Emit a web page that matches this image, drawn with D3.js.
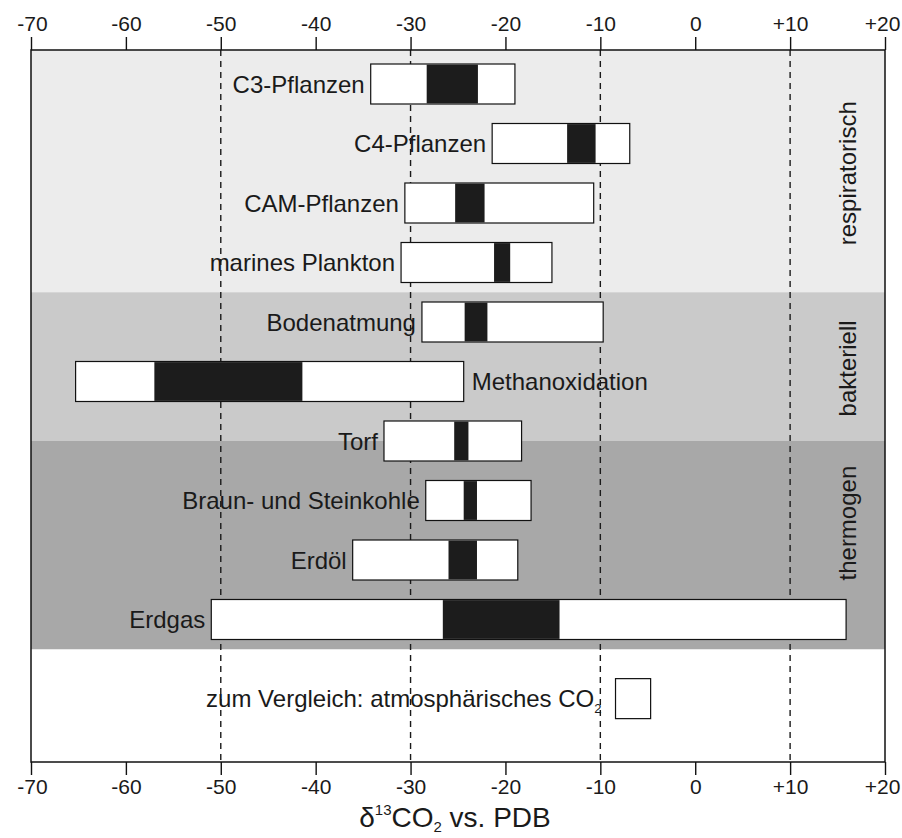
<!DOCTYPE html>
<html>
<head>
<meta charset="utf-8">
<script src="https://cdn.jsdelivr.net/npm/d3@7/dist/d3.min.js"></script>
<style>
  html, body { margin: 0; padding: 0; background: #fff; }
  svg { display: block; font-family: "Liberation Sans", Arial, Helvetica, sans-serif; }
</style>
</head>
<body>
<svg id="chart" width="902" height="838"></svg>
<script>
// ---- data ----
const categories = ["C3-Pflanzen", "C4-Pflanzen", "CAM-Pflanzen", "marines Plankton", "Bodenatmung",
  "Methanoxidation", "Torf", "Braun- und Steinkohle", "Erdöl", "Erdgas"];
const rangeMin = [-34.2, -21.4, -30.6, -31.0, -28.8, -65.3, -32.8, -28.4, -36.1, -51.0];
const rangeMax = [-19.0, -6.9, -10.7, -15.1, -9.7, -24.4, -18.3, -17.3, -18.7, 15.9];
const coreMin = [-28.3, -13.5, -25.3, -21.2, -24.3, -57.0, -25.4, -24.4, -26.0, -26.6];
const coreMax = [-22.9, -10.5, -22.2, -19.5, -21.9, -41.4, -23.9, -23.0, -23.0, -14.3];
const labelRight = ["Methanoxidation"];

const bandNames = ["respiratorisch", "bakteriell", "thermogen"];
const bandFrom = [-0.57, 3.5, 6.0];   // in row units
const bandTo = [3.5, 6.0, 9.5];
const bandLabelRow = [1.5, 4.78, 7.38];
const bandColors = ["#ececec", "#cacaca", "#a8a8a8"];

const refLabel = "zum Vergleich: atmosphärisches CO";
const refMin = -8.4, refMax = -4.7, refRow = 10.33;

const tickValues = [-70, -60, -50, -40, -30, -20, -10, 0, 10, 20];
const tickLabels = ["-70", "-60", "-50", "-40", "-30", "-20", "-10", "0", "+10", "+20"];
const dashedValues = [-50, -30, -10, 10];

// ---- layout ----
const svg = d3.select("#chart");
const mLeft = 31, mRight = 885, mTop = 50, mBottom = 762;
const x = d3.scaleLinear().domain([-70, 20]).range([mLeft, mRight]);
const y = d3.scaleLinear().domain([0, 1]).range([84, 84 + 59.5]);
const barH = 40;

// bands
svg.append("g").selectAll("rect").data(bandNames).join("rect")
  .attr("x", mLeft).attr("width", mRight - mLeft)
  .attr("y", (d, i) => Math.max(mTop, y(bandFrom[i])))
  .attr("height", (d, i) => y(bandTo[i]) - Math.max(mTop, y(bandFrom[i])))
  .attr("fill", (d, i) => bandColors[i]);

// dashed reference lines
svg.append("g").selectAll("line").data(dashedValues).join("line")
  .attr("x1", d => x(d)).attr("x2", d => x(d))
  .attr("y1", mTop).attr("y2", mBottom)
  .attr("stroke", "#1a1a1a").attr("stroke-width", 1.4)
  .attr("stroke-dasharray", "6,5");

// bars
const rows = svg.append("g").selectAll("g").data(categories).join("g");
rows.append("rect")
  .attr("x", (d, i) => x(rangeMin[i]))
  .attr("width", (d, i) => x(rangeMax[i]) - x(rangeMin[i]))
  .attr("y", (d, i) => y(i) - barH / 2).attr("height", barH)
  .attr("fill", "#fff").attr("stroke", "#111").attr("stroke-width", 1.2);
rows.append("rect")
  .attr("x", (d, i) => x(coreMin[i]))
  .attr("width", (d, i) => x(coreMax[i]) - x(coreMin[i]))
  .attr("y", (d, i) => y(i) - barH / 2 + 0.6).attr("height", barH - 1.2)
  .attr("fill", "#1c1c1c");
rows.append("text")
  .attr("x", (d, i) => labelRight.includes(d) ? x(rangeMax[i]) + 8 : x(rangeMin[i]) - 6)
  .attr("y", (d, i) => y(i) + 8.5)
  .attr("text-anchor", d => labelRight.includes(d) ? "start" : "end")
  .attr("font-size", 24).attr("fill", "#1a1a1a")
  .text(d => d);

// band labels
svg.append("g").selectAll("text").data(bandNames).join("text")
  .attr("transform", (d, i) => `translate(856,${y(bandLabelRow[i])}) rotate(-90)`)
  .attr("text-anchor", "middle")
  .attr("font-size", 24).attr("fill", "#1a1a1a")
  .text(d => d);

// reference box
svg.append("rect")
  .attr("x", x(refMin)).attr("width", x(refMax) - x(refMin))
  .attr("y", y(refRow) - barH / 2).attr("height", barH)
  .attr("fill", "#fff").attr("stroke", "#111").attr("stroke-width", 1.2);
const rt = svg.append("text")
  .attr("x", x(refMin) - 14).attr("y", y(refRow) + 8.5)
  .attr("text-anchor", "end").attr("font-size", 24).attr("fill", "#1a1a1a");
rt.append("tspan").text(refLabel);
rt.append("tspan").attr("font-size", 13).attr("dy", 6).text("2");

// frame
svg.append("rect").attr("x", mLeft).attr("y", mTop)
  .attr("width", mRight - mLeft).attr("height", mBottom - mTop)
  .attr("fill", "none").attr("stroke", "#111").attr("stroke-width", 1.5);

// axes
const fmt = d => tickLabels[tickValues.indexOf(d)];
const axTop = d3.axisTop(x).tickValues(tickValues).tickFormat(fmt).tickSize(13).tickPadding(6);
const axBot = d3.axisBottom(x).tickValues(tickValues).tickFormat(fmt).tickSize(13).tickPadding(4);
const gt = svg.append("g").attr("transform", `translate(0,${mTop})`).call(axTop);
const gb = svg.append("g").attr("transform", `translate(0,${mBottom})`).call(axBot);
[gt, gb].forEach(g => {
  g.select(".domain").remove();
  g.selectAll(".tick line").attr("stroke", "#111").attr("stroke-width", 1.4);
  g.selectAll(".tick text").attr("font-size", 21).attr("fill", "#1a1a1a")
    .attr("font-family", "Liberation Sans, Arial, sans-serif")
    .attr("dx", d => d === 20 ? -3 : (d === -70 ? 1 : 0));
});

// title
const title = svg.append("text")
  .attr("x", 455).attr("y", 827)
  .attr("text-anchor", "middle").attr("font-size", 28).attr("fill", "#1a1a1a");
title.append("tspan").text("δ");
title.append("tspan").attr("font-size", 15).attr("dy", -12).text("13");
title.append("tspan").attr("dy", 12).text("CO");
title.append("tspan").attr("font-size", 15).attr("dy", 5).text("2");
title.append("tspan").attr("dy", -5).text(" vs. PDB");
</script>
</body>
</html>
